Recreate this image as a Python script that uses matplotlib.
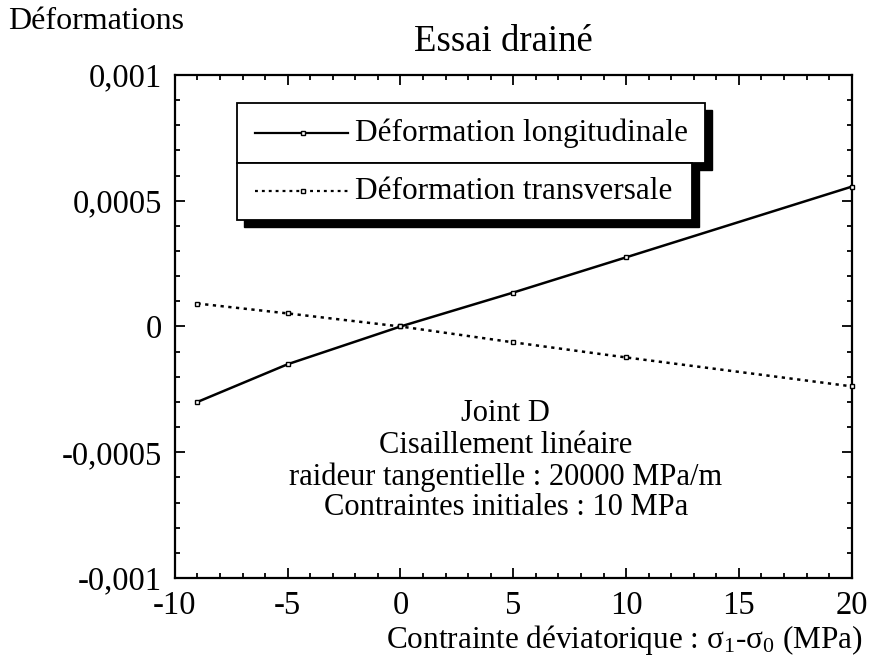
import matplotlib
matplotlib.use("Agg")
import matplotlib.pyplot as plt
from matplotlib.patches import Rectangle
from matplotlib.lines import Line2D
from matplotlib.ticker import MultipleLocator, FuncFormatter

plt.rcParams['font.family'] = ['Liberation Serif', 'DejaVu Serif']
plt.rcParams['mathtext.fontset'] = 'custom'
plt.rcParams['mathtext.rm'] = 'Liberation Serif'
plt.rcParams['mathtext.it'] = 'Liberation Serif:italic'

# Data
contrainte = [-9, -5, 0, 5, 10, 20]
def_longitudinale = [-0.0003, -0.00015, 0.0, 0.000135, 0.000275, 0.000556]
def_transversale = [0.0000913, 0.000052, 0.0, -0.000063, -0.000123, -0.000238]
series_labels = ['Déformation longitudinale', 'Déformation transversale']
annotation_lines = ['Joint D', 'Cisaillement linéaire',
                    'raideur tangentielle : 20000 MPa/m',
                    'Contraintes initiales : 10 MPa']

fig = plt.figure(figsize=(8.7, 6.67), dpi=100)
ax = fig.add_axes([0.201, 0.1334, 0.778, 0.7542])

dotted = (0, (1.3, 1.8))
ax.plot(contrainte, def_longitudinale, '-', color='black', lw=1.8,
        marker='s', ms=3.5, mfc='white', mec='black', mew=1.0, clip_on=False, zorder=3)
ax.plot(contrainte, def_transversale, linestyle=dotted, color='black', lw=1.8,
        marker='s', ms=3.5, mfc='white', mec='black', mew=1.0, clip_on=False, zorder=3)

ax.set_xlim(-10, 20)
ax.set_ylim(-0.001, 0.001)
ax.xaxis.set_major_locator(MultipleLocator(5))
ax.xaxis.set_minor_locator(MultipleLocator(1))
ax.yaxis.set_major_locator(MultipleLocator(0.0005))
ax.yaxis.set_minor_locator(MultipleLocator(0.0001))

def fmt(v, pos):
    if abs(v) < 1e-12:
        return '0'
    return ('%g' % v).replace('.', ',')

ax.yaxis.set_major_formatter(FuncFormatter(fmt))
ax.xaxis.set_major_formatter(FuncFormatter(lambda v, p: '%d' % v))
ax.tick_params(which='both', direction='in', top=True, right=True, labelsize=23.5, width=1.3)
ax.tick_params(which='major', length=7)
ax.tick_params(which='minor', length=3.5)
ax.tick_params(axis='x', which='major', pad=9)
ax.tick_params(axis='y', which='major', pad=9)
for s in ax.spines.values():
    s.set_linewidth(1.6)

# Legend: two stacked boxes with drop shadows (axes coordinates)
boxes = [(0.0916, 0.825, 0.691, 0.119), (0.0916, 0.712, 0.672, 0.113)]
styles = ['-', dotted]
shx, shy = 0.0105, 0.0145
for (bx, by, bw, bh), ls, lab in zip(boxes, styles, series_labels):
    ax.add_patch(Rectangle((bx + shx, by - shy), bw, bh, transform=ax.transAxes,
                           facecolor='black', edgecolor='black', zorder=5))
    ax.add_patch(Rectangle((bx, by), bw, bh, transform=ax.transAxes,
                           facecolor='white', edgecolor='black', lw=1.3, zorder=6))
    ym = by + bh / 2
    ax.add_line(Line2D([bx + 0.027, bx + 0.164], [ym, ym], transform=ax.transAxes,
                       color='black', lw=1.6, linestyle=ls, zorder=7))
    ax.add_line(Line2D([bx + 0.0975], [ym], transform=ax.transAxes, marker='s', ms=3.5,
                       mfc='white', mec='black', mew=1.0, zorder=8))
    ax.text(bx + 0.174, ym, lab, transform=ax.transAxes, fontsize=22.5,
            va='center', ha='left', zorder=8)

# Annotation block, one line at a time
for line, yf in zip(annotation_lines, [0.328, 0.264, 0.201, 0.141]):
    ax.text(0.489, yf, line, transform=ax.transAxes, fontsize=22,
            ha='center', va='center')

fig.text(0.579, 0.937, 'Essai drainé', fontsize=26.5, ha='center', va='center')
fig.text(0.009, 0.968, 'Déformations', fontsize=23, ha='left', va='center')
fig.text(0.991, 0.040, 'Contrainte déviatorique : σ$_1$-σ$_0$ (MPa)', fontsize=22.5,
         ha='right', va='center')

fig.savefig('out.png', dpi=100)
